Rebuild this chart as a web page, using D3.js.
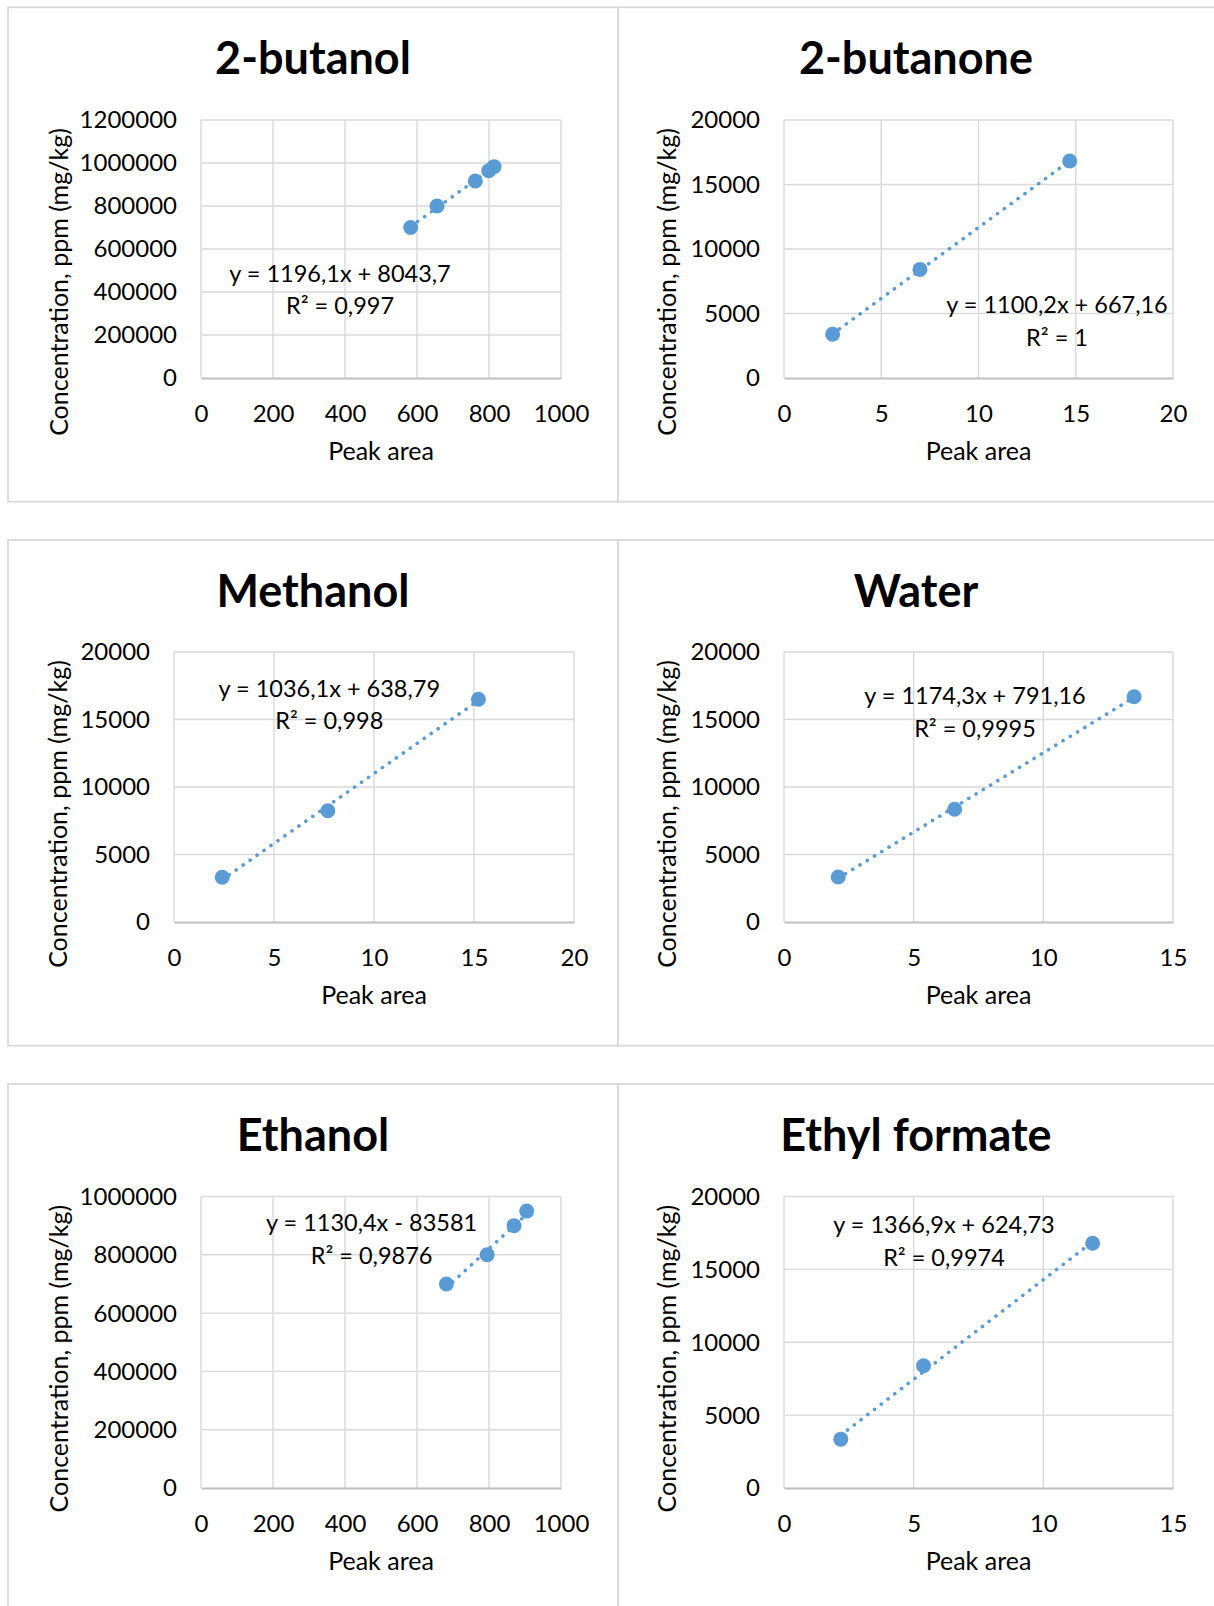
<!DOCTYPE html>
<html>
<head>
<meta charset="utf-8">
<script src="https://cdn.jsdelivr.net/npm/d3@7"></script>
<style>
  html, body { margin: 0; padding: 0; background: #ffffff; }
  svg { display: block; font-family: Lato, "Open Sans", sans-serif; }
</style>
</head>
<body>
<svg id="chart" width="1214" height="1606"></svg>
<script>
// ---- Calibration data: peak area vs. concentration (ppm, mg/kg) ----
const compounds = ["2-butanol", "2-butanone", "Methanol", "Water", "Ethanol", "Ethyl formate"];

const butanolArea = [582.5, 655.6, 762.0, 799.2, 813.9];
const butanolConc = [700000, 800000, 916000, 964000, 983000];

const butanoneArea = [2.50, 6.99, 14.69];
const butanoneConc = [3390, 8420, 16820];

const methanolArea = [2.41, 7.69, 15.22];
const methanolConc = [3310, 8240, 16500];

const waterArea = [2.09, 6.58, 13.50];
const waterConc = [3330, 8350, 16690];

const ethanolArea = [681.7, 794.8, 869.5, 904.7];
const ethanolConc = [700000, 800000, 900000, 950000];

const ethylFormateArea = [2.19, 5.38, 11.90];
const ethylFormateConc = [3350, 8390, 16790];

// Linear trendline coefficients and R² per compound
const slopes = [1196.1, 1100.2, 1036.1, 1174.3, 1130.4, 1366.9];
const intercepts = [8043.7, 667.16, 638.79, 791.16, -83581, 624.73];
const rSquared = [0.997, 1, 0.998, 0.9995, 0.9876, 0.9974];

// Axis tick values
const xTicks1000 = [0, 200, 400, 600, 800, 1000];
const xTicks20 = [0, 5, 10, 15, 20];
const xTicks15 = [0, 5, 10, 15];
const yTicks1200k = [0, 200000, 400000, 600000, 800000, 1000000, 1200000];
const yTicks1000k = [0, 200000, 400000, 600000, 800000, 1000000];
const yTicks20k = [0, 5000, 10000, 15000, 20000];

const xTitle = "Peak area";
const yTitle = "Concentration, ppm (mg/kg)";

const areas = [butanolArea, butanoneArea, methanolArea, waterArea, ethanolArea, ethylFormateArea];
const concs = [butanolConc, butanoneConc, methanolConc, waterConc, ethanolConc, ethylFormateConc];
const xTickSets = [xTicks1000, xTicks20, xTicks20, xTicks15, xTicks1000, xTicks15];
const yTickSets = [yTicks1200k, yTicks20k, yTicks20k, yTicks20k, yTicks1000k, yTicks20k];

// ---- Page layout (chart boxes, plot areas, label anchors) ----
const layout = [
  { box: [8, 7.3, 610, 494.4],   plot: [201, 120, 561, 378],     titleX: 313, ytX: 67.5,  ytY: 282,    eq: [340, 281.7] },
  { box: [618, 7.3, 700, 494.4], plot: [784, 120, 1173, 378],    titleX: 916, ytX: 675.5, ytY: 282,    eq: [1057, 313.3] },
  { box: [8, 540, 610, 505.7],   plot: [174, 652, 574, 922],     titleX: 313, ytX: 66.5,  ytY: 814,    eq: [329.3, 696.7] },
  { box: [618, 540, 700, 505.7], plot: [784, 652, 1173, 922],    titleX: 916, ytX: 675.5, ytY: 814,    eq: [975, 704] },
  { box: [8, 1084, 610, 600],    plot: [201, 1196.5, 561, 1488], titleX: 313, ytX: 67.5,  ytY: 1358.6, eq: [371.6, 1231.4] },
  { box: [618, 1084, 700, 600],  plot: [784, 1196.5, 1173, 1488],titleX: 916, ytX: 675.5, ytY: 1358.6, eq: [944, 1233.4] }
];

const BLUE = "#5b9bd5";
const GRID = "#d9d9d9";
const AXIS = "#bfbfbf";
const TEXT = "#000000";
const TICK_FS = 24;     // tick label font size
const LABEL_FS = 23.5;  // equation font size
const AXTITLE_FS = 25;  // axis title font size
const TITLE_FS = 45;    // chart title font size
const EQ_LINE = 32.5;   // spacing between equation and R² lines

const fmtNum = v => String(Math.abs(v)).replace(".", ",");
const fmtTick = v => String(v);

const svg = d3.select("#chart");
svg.append("rect").attr("width", 1214).attr("height", 1606).attr("fill", "#ffffff");

compounds.forEach((name, i) => {
  const L = layout[i];
  const [px, py, pw, ph] = L.box;
  const [l, t, r, b] = L.plot;
  const xt = xTickSets[i], yt = yTickSets[i];

  const x = d3.scaleLinear().domain([xt[0], xt[xt.length - 1]]).range([l, r]);
  const y = d3.scaleLinear().domain([yt[0], yt[yt.length - 1]]).range([b, t]);

  const g = svg.append("g").attr("class", "chart-" + i);

  // chart box outline
  g.append("rect")
    .attr("x", px).attr("y", py).attr("width", pw).attr("height", ph)
    .attr("fill", "none").attr("stroke", GRID).attr("stroke-width", 1.8);

  // title
  g.append("text")
    .attr("x", L.titleX).attr("y", py + 67)
    .attr("text-anchor", "middle")
    .attr("font-size", TITLE_FS).attr("font-weight", 700).attr("fill", TEXT)
    .text(name);

  // vertical gridlines
  g.append("g").selectAll("line").data(xt).join("line")
    .attr("x1", d => x(d)).attr("x2", d => x(d))
    .attr("y1", t).attr("y2", b)
    .attr("stroke", GRID).attr("stroke-width", 1.4);

  // horizontal gridlines (except the baseline, drawn as the axis)
  g.append("g").selectAll("line").data(yt.slice(1)).join("line")
    .attr("x1", l).attr("x2", r)
    .attr("y1", d => y(d)).attr("y2", d => y(d))
    .attr("stroke", GRID).attr("stroke-width", 1.4);

  // x axis (line + labels)
  const xAxis = d3.axisBottom(x).tickValues(xt).tickSize(0).tickPadding(0).tickFormat(fmtTick);
  const xg = g.append("g").attr("transform", `translate(0,${b})`).call(xAxis);
  xg.select(".domain").attr("stroke", AXIS).attr("stroke-width", 1.8);
  xg.selectAll("text")
    .attr("y", 43.5).attr("dy", null)
    .attr("font-size", TICK_FS).attr("font-family", "Lato").attr("fill", TEXT);

  // y axis labels
  const yAxis = d3.axisLeft(y).tickValues(yt).tickSize(0).tickPadding(0).tickFormat(fmtTick);
  const yg = g.append("g").attr("transform", `translate(${l},0)`).call(yAxis);
  yg.select(".domain").remove();
  yg.selectAll("text")
    .attr("x", -24).attr("dy", "0.33em")
    .attr("font-size", TICK_FS).attr("font-family", "Lato").attr("fill", TEXT);

  // axis titles
  g.append("text")
    .attr("x", (l + r) / 2).attr("y", b + 82)
    .attr("text-anchor", "middle")
    .attr("font-size", AXTITLE_FS).attr("fill", TEXT)
    .text(xTitle);

  g.append("text")
    .attr("transform", `translate(${L.ytX},${L.ytY}) rotate(-90)`)
    .attr("text-anchor", "middle")
    .attr("font-size", AXTITLE_FS).attr("fill", TEXT)
    .text(yTitle);

  // linear trendline across the data range
  const xs = areas[i];
  const ext = d3.extent(xs);
  const fit = v => slopes[i] * v + intercepts[i];
  g.append("path")
    .attr("d", d3.line().x(d => x(d)).y(d => y(fit(d)))(ext))
    .attr("fill", "none").attr("stroke", BLUE)
    .attr("stroke-width", 3.6).attr("stroke-linecap", "round")
    .attr("stroke-dasharray", "0.1 8.4");

  // data markers
  g.append("g").selectAll("circle").data(xs.map((v, k) => [v, concs[i][k]])).join("circle")
    .attr("cx", d => x(d[0])).attr("cy", d => y(d[1]))
    .attr("r", 7.5).attr("fill", BLUE);

  // trendline equation and R²
  const sign = intercepts[i] < 0 ? "-" : "+";
  const eqText = `y = ${fmtNum(slopes[i])}x ${sign} ${fmtNum(intercepts[i])}`;
  const r2Text = `R² = ${fmtNum(rSquared[i])}`;
  const eg = g.append("g").attr("font-size", LABEL_FS).attr("fill", TEXT).attr("text-anchor", "middle");
  eg.append("text").attr("x", L.eq[0]).attr("y", L.eq[1]).text(eqText);
  eg.append("text").attr("x", L.eq[0]).attr("y", L.eq[1] + EQ_LINE).text(r2Text);
});
</script>
</body>
</html>
